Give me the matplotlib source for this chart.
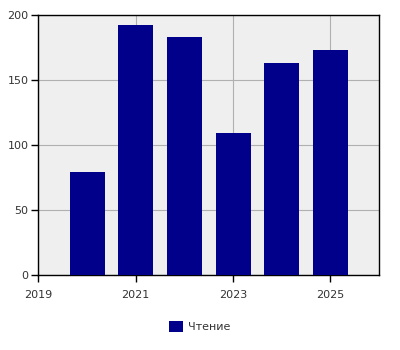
import matplotlib
matplotlib.use("Agg")
import matplotlib.pyplot as plt

years = [2020, 2021, 2022, 2023, 2024, 2025]
values = [79, 192, 183, 109, 163, 173]
series_name = "Чтение"
xticks = [2019, 2021, 2023, 2025]
yticks = [0, 50, 100, 150, 200]

plt.rcParams['font.family'] = ['DejaVu Sans']
fig = plt.figure(figsize=(4, 3.5), dpi=100)
ax = fig.add_axes([0.096, 0.214, 0.8515, 0.743])
ax.set_facecolor('#efefef')
ax.bar(years, values, width=0.72, color='#00008b', label=series_name, zorder=3)
ax.set_xlim(2019, 2026)
ax.set_ylim(0, 200)
ax.set_xticks(xticks)
ax.set_yticks(yticks)
ax.grid(True, color='#b0b0b0', linewidth=0.8, zorder=0)
ax.set_axisbelow(True)
for s in ax.spines.values():
    s.set_color('black')
    s.set_linewidth(1)
ax.tick_params(axis='both', length=5, width=1, color='black', labelsize=8, labelcolor='#333333')
ax.tick_params(axis='x', pad=6)
ax.tick_params(axis='y', pad=2)
fig.legend(loc='center', bbox_to_anchor=(0.5, 0.067), frameon=False, fontsize=8,
           handlelength=1.2, handleheight=1.2, handletextpad=0.5, labelcolor='#333333')
fig.savefig('out.png', dpi=100)
